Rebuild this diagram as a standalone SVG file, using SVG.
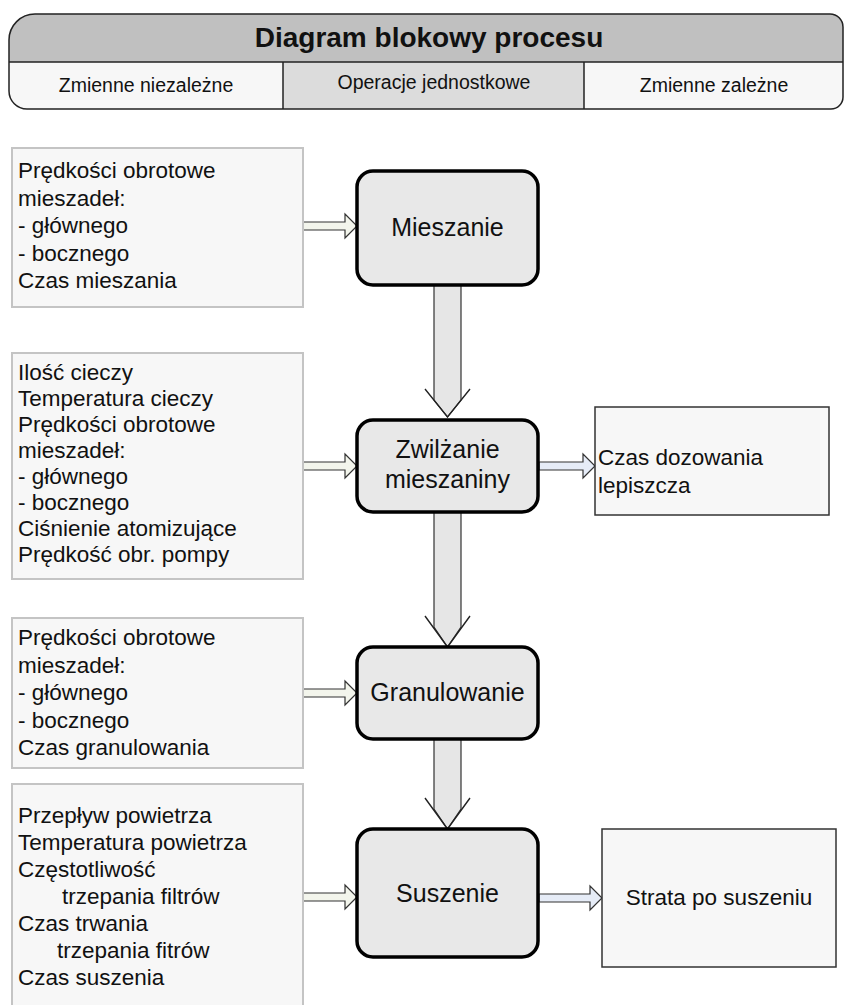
<svg xmlns="http://www.w3.org/2000/svg" width="845" height="1005" viewBox="0 0 845 1005">
  <style>
    text { font-family: "Liberation Sans", Arial, sans-serif; fill: #111; }
    .title { font-size: 28px; font-weight: bold; }
    .col { font-size: 19.5px; text-anchor: middle; }
    .inbox { fill: #f7f7f7; stroke: #c4c4c4; stroke-width: 2; }
    .intext { font-size: 22.5px; }
    .proc { fill: #e8e8e8; stroke: #000; stroke-width: 3.5; }
    .proctext { font-size: 25px; text-anchor: middle; }
    .outbox { fill: #f7f7f7; stroke: #333; stroke-width: 1.5; }
    .outtext { font-size: 22.5px; }
    .flow { fill: #e6e6e6; stroke: #333; stroke-width: 1.2; stroke-linejoin: miter; }
    .wing { fill: none; stroke: #222; stroke-width: 1.4; }
    .inarrow { fill: #f3f5ec; stroke: #333; stroke-width: 1.2; }
    .outarrow { fill: #e6ecf7; stroke: #333; stroke-width: 1.2; }
  </style>
  <defs>
    <clipPath id="headerClip">
      <path d="M 9 40 A 26 26 0 0 1 35 14 L 830 14 A 13 13 0 0 1 843 27 L 843 97 A 12 12 0 0 1 831 109 L 27 109 A 18 18 0 0 1 9 91 Z"/>
    </clipPath>
  </defs>

  <!-- header table -->
  <g id="header">
    <g clip-path="url(#headerClip)">
      <rect x="0" y="0" width="845" height="62" fill="#c0c0c0"/>
      <rect x="0" y="62" width="283" height="50" fill="#f7f7f7"/>
      <rect x="283" y="62" width="301" height="50" fill="#dcdcdc"/>
      <rect x="584" y="62" width="261" height="50" fill="#f7f7f7"/>
    </g>
    <line x1="9" y1="62" x2="843" y2="62" stroke="#222" stroke-width="1.5"/>
    <line x1="283" y1="62" x2="283" y2="109" stroke="#222" stroke-width="1.5"/>
    <line x1="584" y1="62" x2="584" y2="109" stroke="#222" stroke-width="1.5"/>
    <path d="M 9 40 A 26 26 0 0 1 35 14 L 830 14 A 13 13 0 0 1 843 27 L 843 97 A 12 12 0 0 1 831 109 L 27 109 A 18 18 0 0 1 9 91 Z" fill="none" stroke="#222" stroke-width="1.5"/>
    <text class="title" x="429" y="47" text-anchor="middle">Diagram blokowy procesu</text>
    <text class="col" x="146" y="92">Zmienne niezależne</text>
    <text class="col" x="434" y="89">Operacje jednostkowe</text>
    <text class="col" x="714" y="92">Zmienne zależne</text>
  </g>

  <!-- connectors -->
  <g id="connectors">
    <!-- main flow arrows -->
    <path class="flow" d="M 434 285 L 434 400 L 447.5 417 L 461 400 L 461 285 Z"/>
    <polyline class="wing" points="425,389 447.5,417 470,389"/>
    <path class="flow" d="M 434 512 L 434 627 L 447.5 647 L 461 627 L 461 512 Z"/>
    <polyline class="wing" points="425,616 447.5,647 470,616"/>
    <path class="flow" d="M 434 739 L 434 809 L 447.5 829 L 461 809 L 461 739 Z"/>
    <polyline class="wing" points="425,798 447.5,829 470,798"/>

    <!-- input variable arrows -->
    <path class="inarrow" d="M 303 222 L 345 222 L 345 214 L 357 226 L 345 238 L 345 230 L 303 230 Z"/>
    <path class="inarrow" d="M 303 462 L 345 462 L 345 454 L 357 466 L 345 478 L 345 470 L 303 470 Z"/>
    <path class="inarrow" d="M 303 689 L 345 689 L 345 681 L 357 693 L 345 705 L 345 697 L 303 697 Z"/>
    <path class="inarrow" d="M 303 893 L 345 893 L 345 885 L 357 897 L 345 909 L 345 901 L 303 901 Z"/>

    <!-- output variable arrows -->
    <path class="outarrow" d="M 539 462 L 583 462 L 583 454 L 595 466 L 583 478 L 583 470 L 539 470 Z"/>
    <path class="outarrow" d="M 539 894 L 590 894 L 590 886 L 602 898 L 590 910 L 590 902 L 539 902 Z"/>
  </g>

  <!-- independent variables -->
  <g id="in-mieszanie">
    <rect class="inbox" x="12" y="148" width="291" height="159"/>
    <text class="intext" x="18" y="178">Prędkości obrotowe</text>
    <text class="intext" x="18" y="205.5">mieszadeł:</text>
    <text class="intext" x="18" y="233">- głównego</text>
    <text class="intext" x="18" y="260.5">- bocznego</text>
    <text class="intext" x="18" y="288">Czas mieszania</text>
  </g>
  <g id="in-zwilzanie">
    <rect class="inbox" x="12" y="353" width="291" height="226"/>
    <text class="intext" x="18" y="380">Ilość cieczy</text>
    <text class="intext" x="18" y="406">Temperatura cieczy</text>
    <text class="intext" x="18" y="432">Prędkości obrotowe</text>
    <text class="intext" x="18" y="458">mieszadeł:</text>
    <text class="intext" x="18" y="484">- głównego</text>
    <text class="intext" x="18" y="510">- bocznego</text>
    <text class="intext" x="18" y="536">Ciśnienie atomizujące</text>
    <text class="intext" x="18" y="562">Prędkość obr. pompy</text>
  </g>
  <g id="in-granulowanie">
    <rect class="inbox" x="12" y="618" width="291" height="150"/>
    <text class="intext" x="18" y="645">Prędkości obrotowe</text>
    <text class="intext" x="18" y="672.5">mieszadeł:</text>
    <text class="intext" x="18" y="700">- głównego</text>
    <text class="intext" x="18" y="727.5">- bocznego</text>
    <text class="intext" x="18" y="755">Czas granulowania</text>
  </g>
  <g id="in-suszenie">
    <rect class="inbox" x="12" y="784" width="291" height="240"/>
    <text class="intext" x="18" y="823">Przepływ powietrza</text>
    <text class="intext" x="18" y="850">Temperatura powietrza</text>
    <text class="intext" x="18" y="877">Częstotliwość</text>
    <text class="intext" x="62" y="904">trzepania filtrów</text>
    <text class="intext" x="18" y="931">Czas trwania</text>
    <text class="intext" x="57" y="958">trzepania fitrów</text>
    <text class="intext" x="18" y="985">Czas suszenia</text>
  </g>

  <!-- unit operations -->
  <g id="op-mieszanie">
    <rect class="proc" x="357" y="171" width="181" height="114" rx="16"/>
    <text class="proctext" x="447.5" y="236">Mieszanie</text>
  </g>
  <g id="op-zwilzanie">
    <rect class="proc" x="357" y="420" width="181" height="92" rx="16"/>
    <text class="proctext" x="447.5" y="458">Zwilżanie</text>
    <text class="proctext" x="447.5" y="488">mieszaniny</text>
  </g>
  <g id="op-granulowanie">
    <rect class="proc" x="357" y="647" width="181" height="92" rx="16"/>
    <text class="proctext" x="447.5" y="701">Granulowanie</text>
  </g>
  <g id="op-suszenie">
    <rect class="proc" x="357" y="829" width="181" height="128" rx="16"/>
    <text class="proctext" x="447.5" y="902">Suszenie</text>
  </g>

  <!-- dependent variables -->
  <g id="out-zwilzanie">
    <rect class="outbox" x="595" y="407" width="234" height="108"/>
    <text class="outtext" x="598" y="465">Czas dozowania</text>
    <text class="outtext" x="598" y="493">lepiszcza</text>
  </g>
  <g id="out-suszenie">
    <rect class="outbox" x="602" y="829" width="234" height="138"/>
    <text class="outtext" x="719" y="905" text-anchor="middle">Strata po suszeniu</text>
  </g>
</svg>
